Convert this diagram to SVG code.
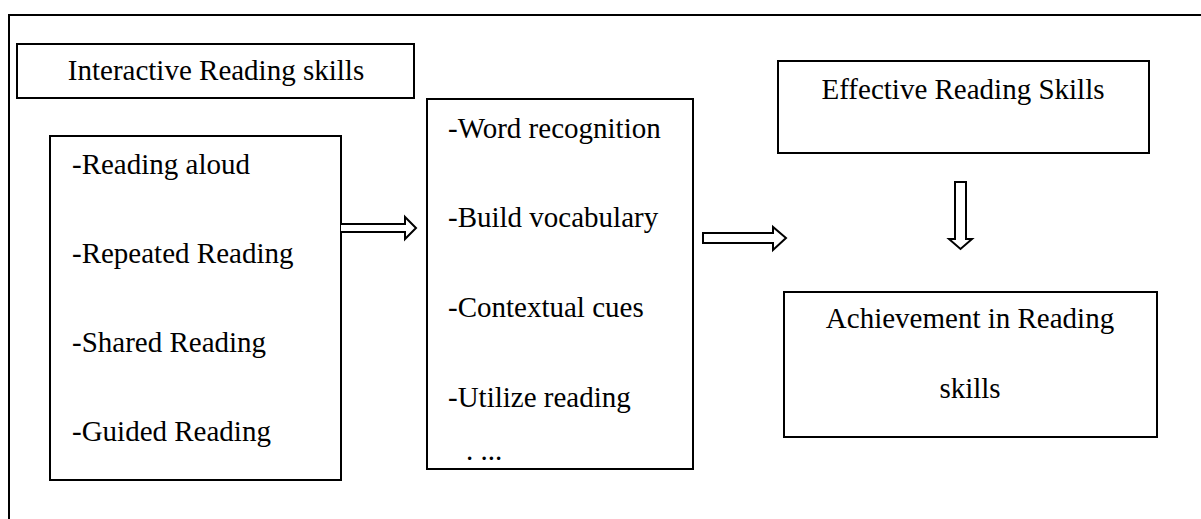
<svg xmlns="http://www.w3.org/2000/svg" width="1201" height="519" viewBox="0 0 1201 519">
<style>
.box{fill:#fff;stroke:#000;stroke-width:2}
.t{font-family:"Liberation Serif","Times New Roman",serif;font-size:29px;fill:#000}
.c{text-anchor:middle}
.arr{fill:#fff;stroke:#000;stroke-width:2;stroke-linejoin:miter}
</style>
<rect width="1201" height="519" fill="#fff"/>
<path d="M9,519 V15 H1201" fill="none" stroke="#000" stroke-width="2"/>
<g id="interactive">
<rect class="box" x="17" y="44" width="397" height="54"/>
<text class="t c" x="216" y="80">Interactive Reading skills</text>
</g>
<g id="left-list">
<rect class="box" x="50" y="136" width="291" height="344"/>
<text class="t" x="72" y="174">-Reading aloud</text>
<text class="t" x="72" y="263">-Repeated Reading</text>
<text class="t" x="72" y="352">-Shared Reading</text>
<text class="t" x="72" y="441">-Guided Reading</text>
</g>
<g id="middle-list">
<rect class="box" x="427" y="99" width="266" height="370"/>
<text class="t" x="448" y="138">-Word recognition</text>
<text class="t" x="448" y="227">-Build vocabulary</text>
<text class="t" x="448" y="317">-Contextual cues</text>
<text class="t" x="448" y="407">-Utilize reading</text>
<text class="t" x="466" y="460">. ...</text>
</g>
<g id="effective">
<rect class="box" x="778" y="61" width="371" height="92"/>
<text class="t c" x="963" y="99">Effective Reading Skills</text>
</g>
<g id="achievement">
<rect class="box" x="784" y="292" width="373" height="145"/>
<text class="t c" x="970" y="328">Achievement in Reading</text>
<text class="t c" x="970" y="398">skills</text>
</g>
<g id="connectors">
<path class="arr" d="M341,224 H405 V217 L416,228 L405,239 V232 H341"/>
<path class="arr" d="M703,233 H773 V227 L786,238 L773,250 V243 H703 Z"/>
<path class="arr" d="M955,182 H966 V239 H972 L960.5,249 L949,239 H955 Z"/>
</g>
</svg>
